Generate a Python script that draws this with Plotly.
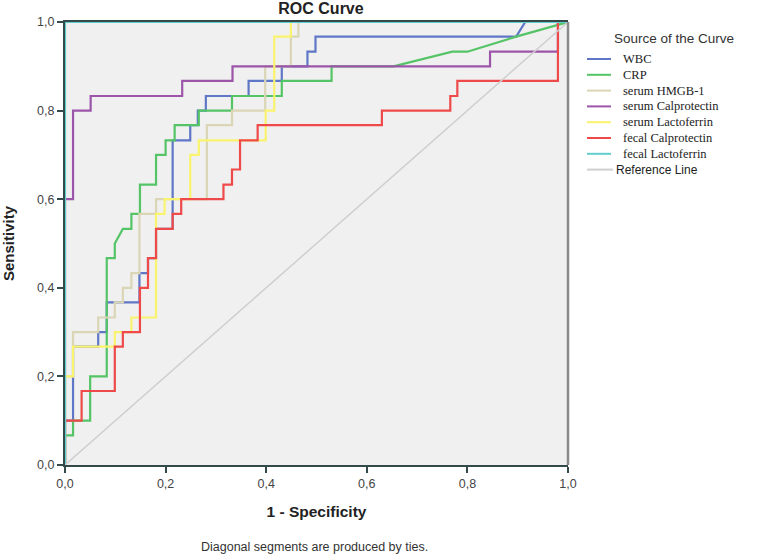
import plotly.graph_objects as go

# ---------------- data ----------------
wbc_x = [0, 0, 0.016, 0.016, 0.066, 0.066, 0.083, 0.083, 0.148, 0.148, 0.165, 0.165, 0.181, 0.181,
         0.214, 0.214, 0.249, 0.249, 0.264, 0.264, 0.28, 0.28, 0.365, 0.365, 0.431, 0.431, 0.482,
         0.482, 0.498, 0.498, 0.897, 0.915, 1.0]
wbc_y = [0, 0.1, 0.1, 0.267, 0.267, 0.3, 0.3, 0.367, 0.367, 0.433, 0.433, 0.467, 0.467, 0.533,
         0.533, 0.733, 0.733, 0.767, 0.767, 0.8, 0.8, 0.833, 0.833, 0.867, 0.867, 0.9, 0.9,
         0.933, 0.933, 0.967, 0.967, 1.0, 1.0]

crp_x = [0, 0, 0.016, 0.016, 0.05, 0.05, 0.083, 0.083, 0.099, 0.099, 0.115, 0.132, 0.132, 0.149,
         0.149, 0.181, 0.181, 0.2, 0.2, 0.218, 0.218, 0.266, 0.266, 0.332, 0.332, 0.431, 0.431,
         0.53, 0.53, 0.653, 0.77, 0.80, 0.897, 1.0]
crp_y = [0, 0.067, 0.067, 0.1, 0.1, 0.2, 0.2, 0.467, 0.467, 0.5, 0.533, 0.533, 0.567, 0.567,
         0.633, 0.633, 0.7, 0.7, 0.733, 0.733, 0.767, 0.767, 0.8, 0.8, 0.833, 0.833, 0.867,
         0.867, 0.9, 0.9, 0.933, 0.933, 0.967, 1.0]

hmgb_x = [0, 0, 0.016, 0.016, 0.066, 0.066, 0.099, 0.099, 0.115, 0.115, 0.132, 0.132, 0.148, 0.148,
          0.181, 0.181, 0.282, 0.282, 0.332, 0.332, 0.398, 0.398, 0.449, 0.449, 0.464, 0.464, 1.0]
hmgb_y = [0, 0.2, 0.2, 0.3, 0.3, 0.333, 0.333, 0.367, 0.367, 0.4, 0.4, 0.433, 0.433, 0.567,
          0.567, 0.6, 0.6, 0.767, 0.767, 0.8, 0.8, 0.9, 0.9, 0.967, 0.967, 1.0, 1.0]

scal_x = [0, 0, 0.016, 0.016, 0.051, 0.051, 0.233, 0.233, 0.333, 0.333, 0.845, 0.845, 0.98, 0.98, 1.0]
scal_y = [0, 0.6, 0.6, 0.8, 0.8, 0.833, 0.833, 0.867, 0.867, 0.9, 0.9, 0.933, 0.933, 1.0, 1.0]

slac_x = [0, 0, 0.016, 0.016, 0.099, 0.099, 0.132, 0.132, 0.181, 0.181, 0.198, 0.198, 0.249, 0.249,
          0.266, 0.266, 0.399, 0.399, 0.416, 0.416, 0.449, 0.449, 1.0]
slac_y = [0, 0.2, 0.2, 0.267, 0.267, 0.3, 0.3, 0.333, 0.333, 0.567, 0.567, 0.6, 0.6, 0.7,
          0.7, 0.733, 0.733, 0.8, 0.8, 0.967, 0.967, 1.0, 1.0]

fcal_x = [0, 0, 0.033, 0.033, 0.099, 0.099, 0.115, 0.115, 0.149, 0.149, 0.165, 0.165, 0.181, 0.181,
          0.214, 0.214, 0.231, 0.231, 0.315, 0.315, 0.332, 0.332, 0.348, 0.348, 0.383, 0.383,
          0.63, 0.63, 0.766, 0.766, 0.78, 0.78, 0.98, 0.98, 1.0]
fcal_y = [0, 0.1, 0.1, 0.167, 0.167, 0.267, 0.267, 0.3, 0.3, 0.4, 0.4, 0.467, 0.467, 0.533,
          0.533, 0.567, 0.567, 0.6, 0.6, 0.633, 0.633, 0.667, 0.667, 0.733, 0.733, 0.767,
          0.767, 0.8, 0.8, 0.833, 0.833, 0.867, 0.867, 1.0, 1.0]

flac_x = [0, 0, 1.0]
flac_y = [0, 1.0, 1.0]

ref_x = [0, 1.0]
ref_y = [0, 1.0]

series_names = ["WBC", "CRP", "serum HMGB-1", "serum Calprotectin", "serum Lactoferrin",
                "fecal Calprotectin", "fecal Lactoferrin", "Reference Line"]
series_colors = ["#5f77c6", "#55c466", "#d9d5b5", "#9c55a8", "#f9f36e", "#ee4a4a", "#62cfcf", "#cfcfcf"]
series_x = [wbc_x, crp_x, hmgb_x, scal_x, slac_x, fcal_x, flac_x, ref_x]
series_y = [wbc_y, crp_y, hmgb_y, scal_y, slac_y, fcal_y, flac_y, ref_y]

tick_vals = [0.0, 0.2, 0.4, 0.6, 0.8, 1.0]
tick_text = ["0,0", "0,2", "0,4", "0,6", "0,8", "1,0"]

# ---------------- layout constants ----------------
W, H = 761, 554
ML, MR, MT, MB = 65, 193, 22, 89
PW = W - ML - MR
PH = H - MT - MB

SANS = "Liberation Sans, Arial, sans-serif"
SERIF = "Liberation Serif, Times New Roman, serif"


def paper_x(px):
    return (px - ML) / PW


def paper_y(py):
    return (H - MB - py) / PH


fig = go.Figure()
for name, col, xs, ys in zip(series_names, series_colors, series_x, series_y):
    fig.add_trace(go.Scatter(
        x=xs, y=ys, mode="lines", name=name, showlegend=False,
        line=dict(color=col, width=1.5 if name == "Reference Line" else 2.2),
        hoverinfo="skip",
    ))

axis_common = dict(
    range=[0, 1.0], tickvals=tick_vals, ticktext=tick_text, showgrid=False, zeroline=False,
    showline=True, linecolor="#34494a", linewidth=2.2, ticks="outside", ticklen=6,
    tickwidth=1.5, tickcolor="#34494a", tickfont=dict(family=SANS, size=12.5, color="#444"),
    fixedrange=True, automargin=False,
)

fig.update_layout(
    width=W, height=H,
    margin=dict(l=ML, r=MR, t=MT, b=MB, pad=0, autoexpand=False),
    paper_bgcolor="white", plot_bgcolor="#f0f0f0",
    title=dict(text="<b>ROC Curve</b>", x=(321) / W, xanchor="center",
               y=1 - 8 / H, yanchor="middle", font=dict(family=SANS, size=16, color="#222")),
    xaxis=dict(axis_common, mirror=True,
               title=dict(text="<b>1 - Specificity</b>", standoff=16,
                          font=dict(family=SANS, size=15.5, color="#222"))),
    yaxis=dict(axis_common,
               title=dict(text="<b>Sensitivity</b>", standoff=19,
                          font=dict(family=SANS, size=15, color="#222"))),
)

# right frame edge (grey)
fig.add_shape(type="line", xref="x domain", yref="y domain", x0=1, x1=1, y0=0, y1=1,
              line=dict(color="#8a8a8a", width=2.5), layer="above")

# footnote
fig.add_annotation(text="Diagonal segments are produced by ties.", xref="paper", yref="paper",
                   x=paper_x(314), y=paper_y(547), xanchor="center", yanchor="middle",
                   showarrow=False, font=dict(family=SANS, size=12.5, color="#333"))

# custom legend (matches the compact SPSS legend)
fig.add_annotation(text="Source of the Curve", xref="paper", yref="paper",
                   x=paper_x(612), y=paper_y(38), xanchor="left", yanchor="middle",
                   showarrow=False, font=dict(family=SANS, size=13.5, color="#333"))
for i, (name, col) in enumerate(zip(series_names, series_colors)):
    yy = paper_y(59 + i * 15.8)
    is_ref = name == "Reference Line"
    fig.add_shape(type="line", xref="paper", yref="paper",
                  x0=paper_x(587), x1=paper_x(611 if not is_ref else 613), y0=yy, y1=yy,
                  line=dict(color=col, width=2))
    fig.add_annotation(text=name, xref="paper", yref="paper",
                       x=paper_x(614 if is_ref else 621), y=yy, xanchor="left", yanchor="middle",
                       showarrow=False,
                       font=dict(family=SANS if is_ref else SERIF, size=12 if is_ref else 12.5,
                                 color="#222"))

fig.write_html("out.html", config={"displayModeBar": False},
               post_script="document.body.style.margin='0px';")
